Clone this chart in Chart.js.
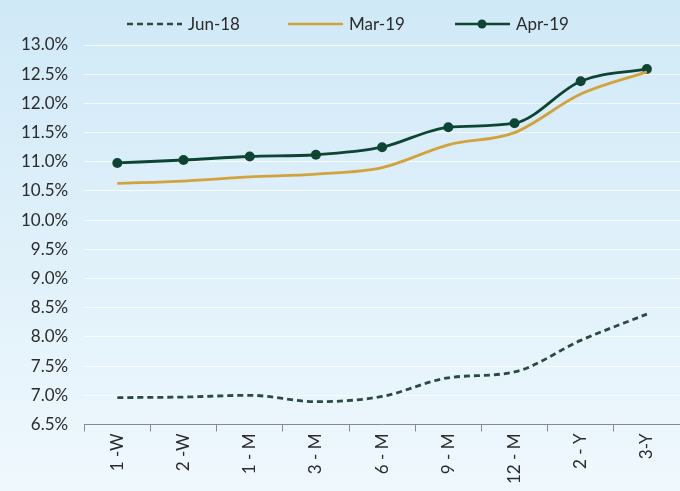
<!DOCTYPE html>
<html>
<head>
<meta charset="utf-8">
<script src="https://cdn.jsdelivr.net/npm/chart.js@4/dist/chart.umd.min.js"></script>
<style>
  html, body { margin: 0; padding: 0; }
  body { width: 680px; height: 491px; background: linear-gradient(#d0e9f7, #eff8fd); }
  #wrap { position: relative; width: 680px; height: 491px; }
</style>
</head>
<body>
<div id="wrap"><canvas id="myChart"></canvas></div>
<script>
const tenors = ['1 -W', '2 -W', '1 - M', '3 - M', '6 - M', '9 - M', '12 - M', '2 - Y', '3-Y'];
const jun18 = [6.96, 6.97, 7.00, 6.89, 6.98, 7.30, 7.40, 7.94, 8.39];
const mar19 = [10.63, 10.67, 10.74, 10.79, 10.90, 11.29, 11.50, 12.16, 12.54];
const apr19 = [10.98, 11.03, 11.09, 11.12, 11.25, 11.59, 11.66, 12.38, 12.59];
const yTicks = [6.5, 13.0, 0.5]; // min, max, step

const fontFamily = 'Lato, "Open Sans", sans-serif';
const textColor = '#2b2b2b';

// legend drawn by hand so the Apr-19 sample can carry its marker
const topLegend = {
    id: 'topLegend',
    afterDraw(chart) {
        const ctx = chart.ctx;
        const items = [
            { ds: chart.data.datasets[0], x: 127 },
            { ds: chart.data.datasets[1], x: 288 },
            { ds: chart.data.datasets[2], x: 455 }
        ];
        const y = 24;
        ctx.save();
        ctx.font = '17px ' + fontFamily;
        ctx.textBaseline = 'middle';
        items.forEach(it => {
            ctx.strokeStyle = it.ds.borderColor;
            ctx.lineWidth = 2.5;
            ctx.setLineDash(it.ds.borderDash || []);
            ctx.beginPath();
            ctx.moveTo(it.x, y);
            ctx.lineTo(it.x + 55, y);
            ctx.stroke();
            ctx.setLineDash([]);
            if (it.ds.pointRadius > 0) {
                ctx.fillStyle = it.ds.pointBackgroundColor;
                ctx.beginPath();
                ctx.arc(it.x + 27, y, 4.5, 0, Math.PI * 2);
                ctx.fill();
            }
            ctx.fillStyle = textColor;
            ctx.fillText(it.ds.label, it.x + 61, y + 1);
        });
        ctx.restore();
    }
};

new Chart(document.getElementById('myChart'), {
    type: 'line',
    data: {
        labels: tenors,
        datasets: [{
            label: 'Jun-18',
            data: jun18,
            borderColor: '#2c4a40',
            borderWidth: 2.8,
            borderDash: [6, 4],
            pointRadius: 0,
            cubicInterpolationMode: 'monotone'
        }, {
            label: 'Mar-19',
            data: mar19,
            borderColor: '#d2a23c',
            borderWidth: 2.8,
            pointRadius: 0,
            cubicInterpolationMode: 'monotone'
        }, {
            label: 'Apr-19',
            data: apr19,
            borderColor: '#0e4433',
            borderWidth: 2.8,
            pointRadius: 5,
            pointBackgroundColor: '#0e4433',
            pointBorderWidth: 0,
            cubicInterpolationMode: 'monotone'
        }]
    },
    options: {
        responsive: true,
        maintainAspectRatio: false,
        animation: false,
        layout: { autoPadding: false, padding: { top: 45, right: 0, left: 5, bottom: 5 } },
        plugins: {
            legend: { display: false },
            tooltip: { enabled: false }
        },
        scales: {
            x: {
                offset: true,
                afterFit: s => { s.paddingRight = 0; },
                grid: {
                    offset: true,
                    drawOnChartArea: false,
                    drawTicks: true,
                    tickLength: 7,
                    color: '#8a8a8a'
                },
                border: { display: true, color: '#8a8a8a', width: 1 },
                ticks: {
                    minRotation: 90,
                    maxRotation: 90,
                    padding: 2,
                    color: textColor,
                    font: { family: fontFamily, size: 17 }
                }
            },
            y: {
                min: yTicks[0],
                max: yTicks[1],
                grid: {
                    color: 'rgba(255,255,255,0.75)',
                    drawTicks: false
                },
                border: { display: false },
                ticks: {
                    stepSize: yTicks[2],
                    padding: 16,
                    color: textColor,
                    font: { family: fontFamily, size: 17 },
                    callback: v => v.toFixed(1) + '%'
                }
            }
        }
    },
    plugins: [topLegend]
});
</script>
</body>
</html>
